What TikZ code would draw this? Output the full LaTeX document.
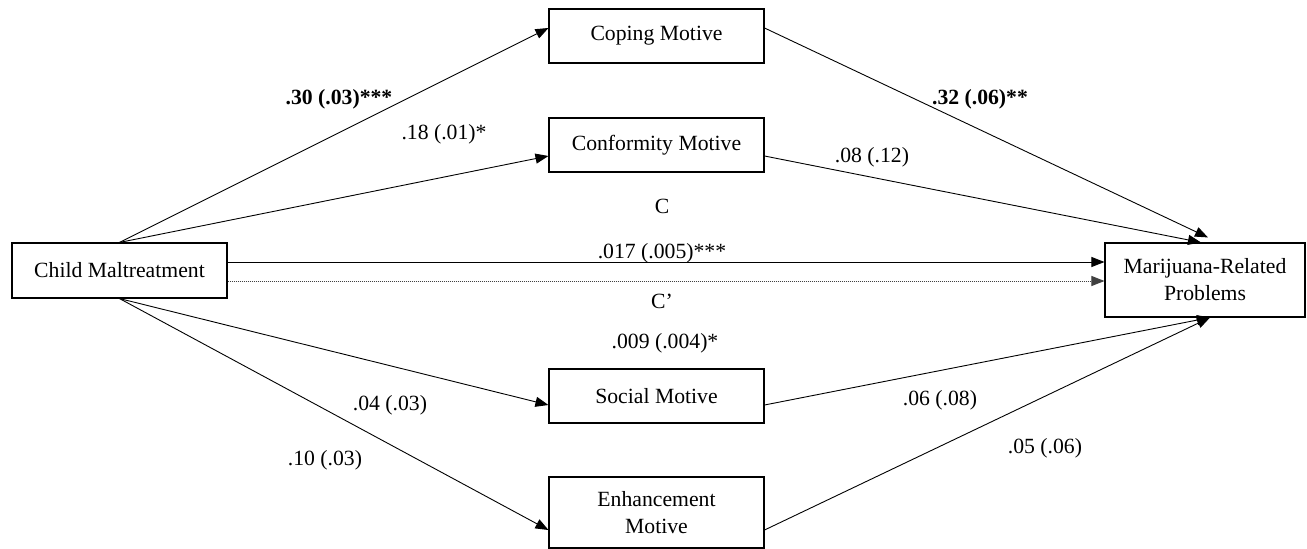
\documentclass[tikz,border=0pt]{standalone}
\usepackage{fontspec}
\setmainfont{Liberation Serif}
\usetikzlibrary{arrows.meta,calc}
\begin{document}
\begin{tikzpicture}[x=1pt,y=-1pt,
 box/.style={draw,line width=1.1pt,inner sep=0pt,align=center,font=\fontsize{21.7}{27}\selectfont},
 motive/.style={box,minimum width=215pt,minimum height=54pt},
 lab/.style={anchor=base,inner sep=0pt,font=\fontsize{21.7}{27}\selectfont},
 conn/.style={line width=0.9pt,-{Triangle[length=13pt,width=10pt]}},
 dottedconn/.style={conn,black!75,dash pattern=on 1pt off 1pt}]
\useasboundingbox (0,0) rectangle (1307,549);
\node[box,minimum width=215pt,minimum height=55pt] (child) at (119.5,270.5) {Child Maltreatment};
\node[box,minimum width=200pt,minimum height=74pt] (mar) at (1205,280) {Marijuana-Related\\Problems};
\node[motive] (coping) at (656.5,36) {Coping Motive};
\node[motive] (conf) at (656.5,145) {Conformity Motive};
\node[motive] (social) at (656.5,396) {Social Motive};
\node[motive,minimum height=71pt] (enh) at (656.5,512.5) {Enhancement\\Motive};

\draw[conn] (child.north) -- ([yshift=8pt]coping.west);
\draw[conn] (child.north) -- ([yshift=-11pt]conf.west);
\draw[conn] (child.south) -- ([yshift=-9pt]social.west);
\draw[conn] (child.south) -- ([yshift=-17.5pt]enh.west);
\draw[conn] ([yshift=8pt]coping.east) -- ([xshift=3pt,yshift=5pt]mar.north);
\draw[conn] ([yshift=-11pt]conf.east) -- ([xshift=-4pt]mar.north);
\draw[conn] ([yshift=-9pt]social.east) -- ([xshift=5pt]mar.south);
\draw[conn] ([yshift=-17.5pt]enh.east) -- ([xshift=5pt]mar.south);
\draw[conn] ([yshift=8.5pt]child.east) -- ([yshift=18pt]mar.west);
\draw[dottedconn] ([yshift=-10.5pt]child.east) -- ([yshift=-1pt]mar.west);

\node[lab] (l1) at (339,104) {\textbf{.30 (.03)***}};
\node[lab] (l2) at (444,139) {.18 (.01)*};
\node[lab] (l3) at (980,104) {\textbf{.32 (.06)**}};
\node[lab] (l4) at (872,162) {.08 (.12)};
\node[lab] (l5) at (662,213) {C};
\node[lab] (l6) at (662,258) {.017 (.005)***};
\node[lab] (l7) at (662,308) {C’};
\node[lab] (l8) at (665,348) {.009 (.004)*};
\node[lab] (l9) at (390,410) {.04 (.03)};
\node[lab] (l10) at (325,465) {.10 (.03)};
\node[lab] (l11) at (940,405) {.06 (.08)};
\node[lab] (l12) at (1045,453) {.05 (.06)};
\end{tikzpicture}
\end{document}
